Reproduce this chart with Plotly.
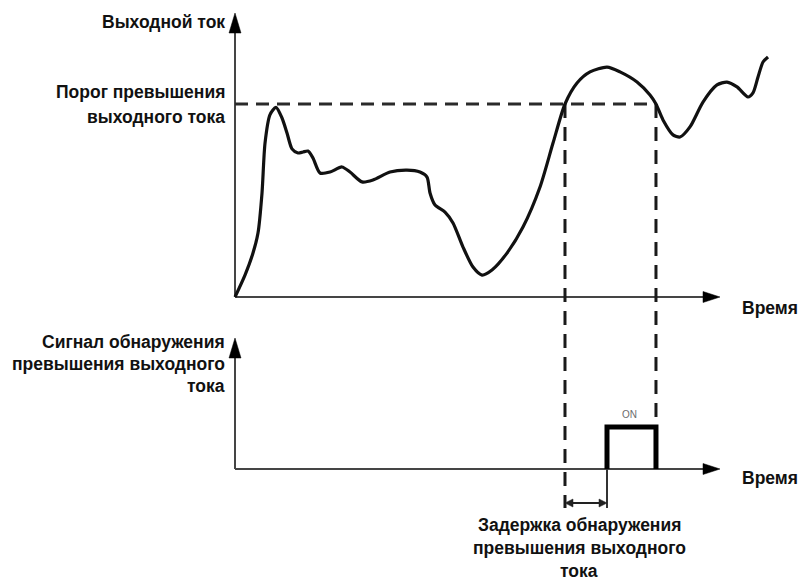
import plotly.graph_objects as go

# ---------------- data ----------------
# Output current over time (time 0..100 = axis length, current: threshold = 80)
time = [0, 2.06, 3.71, 4.74, 5.57, 6.19, 7.22, 8.45, 9.69, 10.72, 11.75, 12.99, 14.02,
        15.05, 16.08, 17.53, 19.59, 22.06, 23.71, 26.19, 28.45, 31.96, 35.46, 38.14,
        39.59, 40.21, 41.24, 43.30, 44.95, 47.01, 49.07, 50.93, 52.99, 56.08, 59.38,
        62.89, 65.57, 68.04, 70.52, 73.20, 76.70, 79.38, 82.89, 85.57, 86.80, 88.25,
        90.31, 91.75, 93.81, 96.49, 99.38, 101.44, 103.51, 105.77, 106.80, 107.84,
        108.87, 109.90]
current = [0, 9.1, 18.2, 26.5, 43.1, 63.8, 75.6, 78.6, 74.2, 68.0, 61.4, 59.7, 60.1,
           60.5, 57.6, 51.4, 51.8, 53.9, 51.8, 47.7, 48.5, 51.8, 52.6, 51.8,
           49.7, 43.1, 38.1, 35.2, 30.7, 20.7, 12.4, 9.1, 11.2, 18.2, 29.0,
           45.6, 63.8, 80.0, 88.7, 93.3, 95.3, 93.3, 89.1, 83.7, 80.0, 73.4,
           67.2, 66.3, 70.5, 80.8, 87.9, 89.1, 87.1, 82.9, 84.6, 91.2,
           97.4, 99.5]

THRESHOLD = 80
T_CROSS_UP = 68.04      # current rises above threshold
T_CROSS_DOWN = 86.80    # current falls below threshold
T_SIGNAL_ON = 76.70     # detection signal switches on after the delay
T_AXIS_MAX = 100

pulse_time = [T_SIGNAL_ON, T_SIGNAL_ON, T_CROSS_DOWN, T_CROSS_DOWN]
pulse_level = [0, 1, 1, 0]

# texts
label_current = "Выходной ток"
label_threshold = ["Порог превышения", "выходного тока"]
label_signal = ["Сигнал обнаружения", "превышения выходного", "тока"]
label_time = "Время"
label_delay = ["Задержка обнаружения", "превышения выходного", "тока"]
label_on = "ON"

# ---------------- geometry ----------------
# body margin is removed by the post script, so the figure fills the window
OFF = 0
WIN_W, WIN_H = 802, 580
W, H = WIN_W - OFF, WIN_H - OFF
X0_PX, PX_PER_T = 235, 4.85
Y0_PX, PX_PER_I = 297, 2.4125
S0_PX, PX_PER_S = 469, 42.0


def t_of(px):
    return (px - X0_PX) / PX_PER_T


def i_of(py):
    return (Y0_PX - py) / PX_PER_I


def s_of(py):
    return (S0_PX - py) / PX_PER_S


def dt(dpx):
    return dpx / PX_PER_T


def di(dpx):
    return dpx / PX_PER_I


def ds(dpx):
    return dpx / PX_PER_S


FONT = "Liberation Sans, Arial, sans-serif"
AXIS_COLOR = "#454545"
INK = "#111111"

fig = go.Figure()

fig.add_trace(go.Scatter(
    x=time, y=current, mode="lines",
    line=dict(color=INK, width=3.2, shape="spline", smoothing=0.7),
    hoverinfo="skip", showlegend=False))

fig.add_trace(go.Scatter(
    x=pulse_time, y=pulse_level, mode="lines", yaxis="y2",
    line=dict(color="#000000", width=5),
    hoverinfo="skip", showlegend=False))

shapes = []


def line(x0, y0, x1, y1, yref="y", color=AXIS_COLOR, width=2, dash=None):
    d = dict(type="line", xref="x", yref=yref, x0=x0, y0=y0, x1=x1, y1=y1,
             line=dict(color=color, width=width), layer="below")
    if dash:
        d["line"]["dash"] = dash
    shapes.append(d)


def tri(points, yref="y", color="#000000"):
    p = "M " + " L ".join(f"{x},{y}" for x, y in points) + " Z"
    shapes.append(dict(type="path", xref="x", yref=yref, path=p,
                       fillcolor=color, line=dict(color=color, width=0.5)))


# --- top axes ---
i_top_tip = i_of(13)
i_top_base = i_of(33)
line(0, 0, 0, i_top_base)
tri([(0, i_top_tip), (-dt(6), i_top_base), (dt(6), i_top_base)])
t_tip = T_AXIS_MAX
t_base = t_tip - dt(17)
line(0, 0, t_base, 0)
tri([(t_tip, 0), (t_base, di(5.5)), (t_base, -di(5.5))])

# --- bottom axes ---
line(0, 0, 0, s_of(358), yref="y2")
tri([(0, s_of(338)), (-dt(6), s_of(358)), (dt(6), s_of(358))], yref="y2")
line(0, 0, t_base, 0, yref="y2")
tri([(t_tip, 0), (t_base, ds(5.5)), (t_base, -ds(5.5))], yref="y2")

# --- threshold & guide dashes ---
line(0, THRESHOLD, T_CROSS_DOWN, THRESHOLD, color="#2a2a2a", width=3, dash="13px,8px")
line(T_CROSS_UP, THRESHOLD, T_CROSS_UP, i_of(508), color="#1a1a1a", width=3, dash="14px,9px")
line(T_CROSS_DOWN, THRESHOLD, T_CROSS_DOWN, i_of(427), color="#1a1a1a", width=3, dash="14px,9px")

# rising edge extension below the axis
line(T_SIGNAL_ON, 0, T_SIGNAL_ON, s_of(508), yref="y2", color="#333333", width=2)

# --- delay double arrow ---
s_arrow = s_of(503)
line(T_CROSS_UP + dt(7), s_arrow, T_SIGNAL_ON - dt(7), s_arrow, yref="y2", color="#222222", width=2)
tri([(T_CROSS_UP, s_arrow), (T_CROSS_UP + dt(8), s_arrow + ds(4)),
     (T_CROSS_UP + dt(8), s_arrow - ds(4))], yref="y2", color="#222222")
tri([(T_SIGNAL_ON, s_arrow), (T_SIGNAL_ON - dt(8), s_arrow + ds(4)),
     (T_SIGNAL_ON - dt(8), s_arrow - ds(4))], yref="y2", color="#222222")

# ---------------- annotations ----------------
annotations = []


def text(s, px, py, anchor="right", size=17.5, color="#111111", bold=True):
    annotations.append(dict(
        text=s, x=(px - OFF) / W, y=1 - (py - OFF) / H, xref="paper", yref="paper",
        xanchor=anchor, yanchor="middle", showarrow=False, borderpad=0,
        font=dict(family=FONT, size=size, color=color,
                  weight="bold" if bold else "normal")))


text(label_current, 226, 22)
text(label_threshold[0], 226, 92)
text(label_threshold[1], 226, 117)
for k, s in enumerate(label_signal):
    text(s, 226, 342 + 22 * k)
text(label_time, 799, 308, anchor="right")
text(label_time, 799, 478, anchor="right")
for k, s in enumerate(label_delay):
    text(s, 579, 525 + 23 * k, anchor="center")
text(label_on, 629, 414, anchor="center", size=10, color="#6b6b6b", bold=False)

fig.update_layout(
    width=W, height=H,
    margin=dict(l=0, r=0, t=0, b=0),
    paper_bgcolor="white", plot_bgcolor="white",
    xaxis=dict(range=[t_of(OFF), t_of(WIN_W)], visible=False,
               domain=[0, 1], fixedrange=True),
    yaxis=dict(range=[i_of(WIN_H), i_of(OFF)], visible=False,
               domain=[0, 1], fixedrange=True),
    yaxis2=dict(range=[s_of(WIN_H), s_of(OFF)], visible=False,
                overlaying="y", fixedrange=True),
    shapes=shapes, annotations=annotations,
    showlegend=False,
)

# remove the default page margin and scrollbars so the figure fills the window
fig.write_html(
    "out.html",
    config={"displayModeBar": False},
    post_script="document.body.style.margin='0';"
                "document.documentElement.style.overflow='hidden';")
